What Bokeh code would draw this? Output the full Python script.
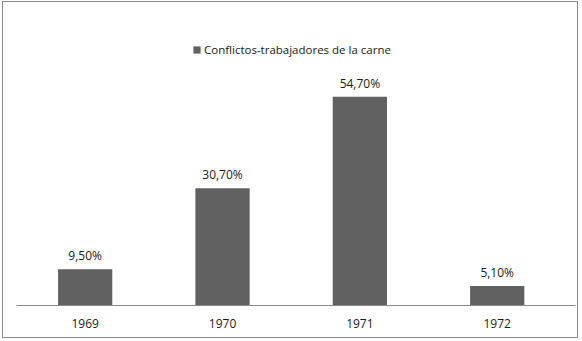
from bokeh.plotting import figure
from bokeh.models import Range1d, ColumnDataSource, LabelSet, Legend, LegendItem, FixedTicker
from bokeh.core.properties import value
from bokeh.embed import file_html
from bokeh.resources import INLINE

years = ["1969", "1970", "1971", "1972"]
values = [9.5, 30.7, 54.7, 5.1]
series_name = "Conflictos-trabajadores de la carne"

xpos = list(range(len(years)))
labels = [f"{v:.2f}".replace(".", ",") + "%" for v in values]
src = ColumnDataSource(dict(x=xpos, top=values, lab=labels))

FONT = "Open Sans"
TXT = "#1a1a1a"

p = figure(width=576, height=337, output_backend="svg", toolbar_location=None,
           x_range=Range1d(-0.5, 3.57), y_range=Range1d(0, 74.7),
           min_border_left=13, min_border_right=4, min_border_top=18, min_border_bottom=34,
           styles={"margin-left": "2px", "margin-top": "1px", "border": "1px solid #8a8a8a"})
p.outline_line_color = None
p.grid.visible = False
p.yaxis.visible = False
p.background_fill_color = "white"
p.border_fill_color = "white"

r = p.vbar(x="x", top="top", width=0.395, bottom=0, source=src, fill_color="#616161", line_color=None)

p.xaxis.ticker = FixedTicker(ticks=xpos)
p.xaxis.major_label_overrides = {i: y for i, y in zip(xpos, years)}
p.xaxis.axis_line_color = "#8a8a8a"
p.xaxis.major_tick_line_color = None
p.xaxis.minor_tick_line_color = None
p.xaxis.major_label_standoff = 7
p.xaxis.major_label_text_font = FONT
p.xaxis.major_label_text_font_size = "12px"
p.xaxis.major_label_text_color = TXT

ls = LabelSet(x="x", y="top", text="lab", source=src, text_align="center", text_baseline="bottom",
              y_offset=5, text_font=value(FONT), text_font_size=value("12px"), text_color=value(TXT))
p.add_layout(ls)

leg = Legend(items=[LegendItem(label=series_name, renderers=[r])], location=(176, 248),
             glyph_width=9, glyph_height=9, label_text_font=FONT, label_text_font_size="11.5px",
             label_text_color=TXT, border_line_color=None, background_fill_alpha=0,
             label_standoff=3, padding=0, margin=0, label_height=12)
p.add_layout(leg, "center")

open("out.html", "w").write(file_html(p, INLINE))
